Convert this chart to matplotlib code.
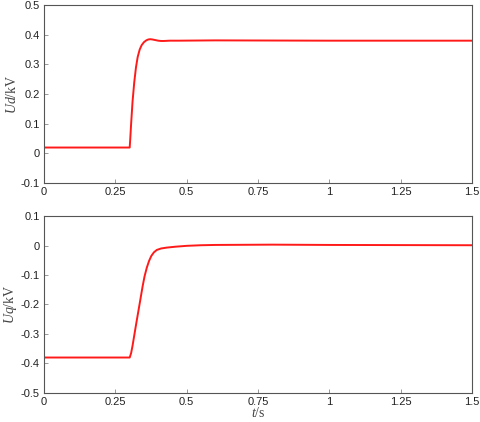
import numpy as np
import matplotlib
matplotlib.use('Agg')
import matplotlib.pyplot as plt

plt.rcParams['font.family'] = ['Liberation Sans', 'DejaVu Sans']
plt.rcParams['mathtext.fontset'] = 'custom'
plt.rcParams['mathtext.it'] = 'Liberation Serif:italic'
plt.rcParams['mathtext.rm'] = 'Liberation Serif'

# Ud response (kV)
t_d = [0.0, 0.300, 0.302, 0.305, 0.310, 0.316, 0.322, 0.328, 0.335, 0.342, 0.350,
       0.358, 0.365, 0.372, 0.380, 0.390, 0.400, 0.410, 0.420, 0.440, 0.470, 0.6, 1.0, 1.5]
ud = [0.020, 0.020, 0.050, 0.100, 0.175, 0.240, 0.290, 0.325, 0.350, 0.365, 0.375,
      0.381, 0.384, 0.385, 0.384, 0.382, 0.380, 0.379, 0.379, 0.380, 0.380, 0.381, 0.380, 0.380]

# Uq response (kV)
t_q = [0.0, 0.300, 0.305, 0.310, 0.316, 0.322, 0.330, 0.338, 0.345, 0.352, 0.360,
       0.368, 0.376, 0.385, 0.395, 0.410, 0.430, 0.460, 0.500, 0.550, 0.600, 0.8, 1.0, 1.5]
uq = [-0.380, -0.380, -0.365, -0.340, -0.305, -0.270, -0.225, -0.180, -0.140, -0.105, -0.075,
      -0.052, -0.035, -0.023, -0.015, -0.010, -0.007, -0.004, -0.001, 0.001, 0.002, 0.003, 0.002, 0.001]

xticks = [0, 0.25, 0.5, 0.75, 1, 1.25, 1.5]
xticklabels = ['0', '0.25', '0.5', '0.75', '1', '1.25', '1.5']

fig = plt.figure(figsize=(4.8, 4.22), dpi=100)
ax1 = fig.add_axes([0.092, 0.566, 0.891, 0.422])
ax2 = fig.add_axes([0.092, 0.069, 0.891, 0.419])

def style(ax, ylim, yticks, yticklabels):
    ax.set_xlim(0, 1.5)
    ax.set_ylim(*ylim)
    ax.set_xticks(xticks)
    ax.set_xticklabels(xticklabels)
    ax.set_yticks(yticks)
    ax.set_yticklabels(yticklabels)
    ax.tick_params(direction='in', length=3, width=0.6, color='#888888',
                   labelsize=8, labelcolor='#222222', pad=3)
    for s in ax.spines.values():
        s.set_color('#555555')
        s.set_linewidth(0.8)

ax1.plot(t_d, ud, color='#ff1a1a', lw=1.4)
style(ax1, (-0.1, 0.5), [-0.1, 0, 0.1, 0.2, 0.3, 0.4, 0.5],
      ['-0.1', '0', '0.1', '0.2', '0.3', '0.4', '0.5'])
ax1.set_ylabel(r'$Ud$/kV', fontsize=10, color='#444444', family='Liberation Serif', labelpad=1)

ax2.plot(t_q, uq, color='#ff1a1a', lw=1.4)
style(ax2, (-0.5, 0.1), [-0.5, -0.4, -0.3, -0.2, -0.1, 0, 0.1],
      ['-0.5', '-0.4', '-0.3', '-0.2', '-0.1', '0', '0.1'])
ax2.set_ylabel(r'$Uq$/kV', fontsize=10, color='#444444', family='Liberation Serif', labelpad=1)
ax2.set_xlabel(r'$t$/s', fontsize=10, color='#444444', family='Liberation Serif', labelpad=-1)

fig.savefig('out.png', dpi=100)
